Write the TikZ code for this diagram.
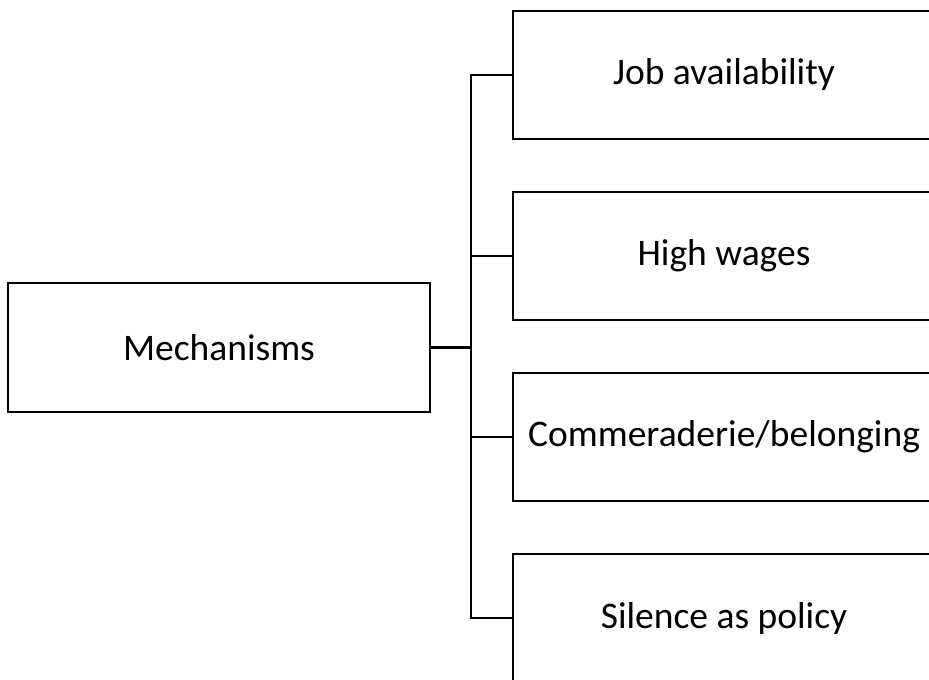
\documentclass[tikz,border=0pt]{standalone}
\usepackage{fontspec}
\setmainfont{Carlito}
\usetikzlibrary{calc}
\tikzset{
  box/.style={draw=black, line width=2.5pt, fill=white, minimum width=422pt,
    inner sep=0pt, font=\fontsize{37.5}{44}\selectfont},
  link/.style={draw=black, line width=2.5pt}
}
\begin{document}
\begin{tikzpicture}[x=1pt, y=-1pt]
  \clip (0,0) rectangle (929,680);
  \fill[white] (0,0) rectangle (929,680);
  % root box
  \node[box, minimum height=129pt] (mech) at (219,347.5) {Mechanisms};
  % branch boxes
  \node[box, minimum height=128pt] (b1) at (724,75) {Job availability};
  \node[box, minimum height=128pt] (b2) at (724,256) {High wages};
  \node[box, minimum height=128pt] (b3) at (724,437) {Commeraderie/belonging};
  \node[box, minimum height=128pt] (b4) at (724,618) {Silence as policy};
  % bracket connecting the root to the branches
  \coordinate (trunktop) at ($(b1.west)+(-41,0)$);
  \draw[link] (b1.west) -- (trunktop) |- (b4.west);
  \draw[link] (b2.west) -- (b2.west -| trunktop);
  \draw[link] (b3.west) -- (b3.west -| trunktop);
  \draw[link] (mech.east) -- (mech.east -| trunktop);
\end{tikzpicture}
\end{document}
